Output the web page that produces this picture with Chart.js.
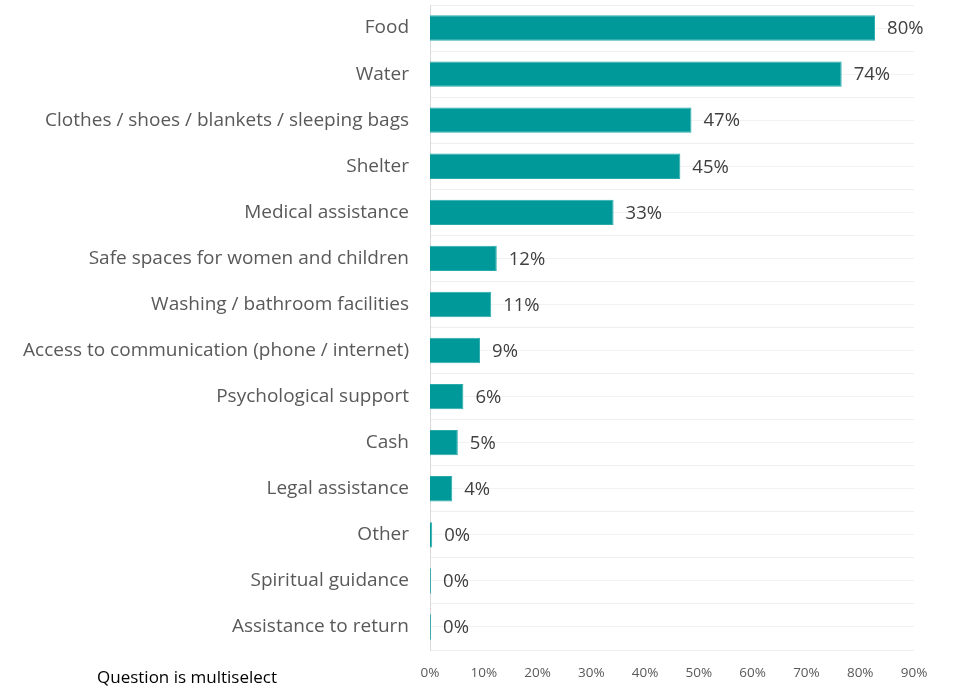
<!DOCTYPE html>
<html>
<head>
<meta charset="utf-8">
<script src="https://cdn.jsdelivr.net/npm/chart.js@4"></script>
<style>
  html, body { margin: 0; padding: 0; background: #fff; }
  #wrap { position: relative; width: 962px; height: 688px; }
  #note {
    position: absolute; left: 97px; top: 665px;
    font: 17px "Open Sans", sans-serif; color: #000;
  }
</style>
</head>
<body>
<div id="wrap">
  <canvas id="chart" width="962" height="688"></canvas>
  <div id="note">Question is multiselect</div>
</div>
<script>
const categories = [
  'Food',
  'Water',
  'Clothes / shoes / blankets / sleeping bags',
  'Shelter',
  'Medical assistance',
  'Safe spaces for women and children',
  'Washing / bathroom facilities',
  'Access to communication (phone / internet)',
  'Psychological support',
  'Cash',
  'Legal assistance',
  'Other',
  'Spiritual guidance',
  'Assistance to return'
];
// percent of respondents (multiselect)
const shares = [80, 74, 47, 45, 33, 12, 11, 9, 6, 5, 4, 0.4, 0.2, 0.2];
const xTicks = [0, 10, 20, 30, 40, 50, 60, 70, 80, 90];

const labelFont = '18.5px "Open Sans", sans-serif';

// value labels at the end of each bar
const barValues = {
  id: 'barValues',
  afterDatasetsDraw(chart) {
    const ctx = chart.ctx;
    const meta = chart.getDatasetMeta(0);
    ctx.save();
    ctx.font = labelFont;
    ctx.fillStyle = '#404040';
    ctx.textBaseline = 'middle';
    ctx.textAlign = 'left';
    meta.data.forEach((bar, i) => {
      ctx.fillText(Math.round(shares[i]) + '%', bar.x + 12, bar.y + 1);
    });
    ctx.restore();
  }
};

new Chart(document.getElementById('chart'), {
  type: 'bar',
  data: {
    labels: categories,
    datasets: [{
      data: shares,
      backgroundColor: '#009999',
      borderColor: '#2aaaaa',
      borderWidth: 1,
      borderSkipped: 'start',
      barPercentage: 0.55,
      categoryPercentage: 1
    }]
  },
  options: {
    indexAxis: 'y',
    responsive: false,
    animation: false,
    layout: { padding: { top: 5, right: 48, left: 0, bottom: 0 } },
    plugins: {
      legend: { display: false },
      tooltip: { enabled: false }
    },
    scales: {
      // bar length scale
      x: {
        display: false,
        min: 0,
        max: 87
      },
      // percent axis printed under the plot
      xt: {
        type: 'linear',
        position: 'bottom',
        min: 0,
        max: 90,
        afterBuildTicks: scale => { scale.ticks = xTicks.map(v => ({ value: v })); },
        ticks: {
          callback: v => v + '%',
          font: { family: 'Open Sans', size: 13.5 },
          color: '#595959',
          padding: 7,
          maxRotation: 0
        },
        grid: { display: false },
        border: { display: false },
        afterFit: scale => { scale.height = 38; }
      },
      y: {
        ticks: {
          font: { family: 'Open Sans', size: 19 },
          color: '#595959',
          padding: 21
        },
        grid: { color: '#eeeeee', drawTicks: false },
        border: { color: '#d9d9d9' },
        afterFit: scale => {
          scale.width = 430;
          scale.paddingTop = 0;
          scale.paddingBottom = 0;
        }
      },
      // lines through the middle of each category row
      y2: {
        type: 'category',
        position: 'left',
        offset: true,
        ticks: { display: false },
        grid: { offset: false, color: '#f2f2f2', drawTicks: false },
        border: { display: false },
        afterFit: scale => {
          scale.width = 0;
          scale.paddingTop = 0;
          scale.paddingBottom = 0;
        }
      }
    }
  },
  plugins: [barValues]
});
</script>
</body>
</html>
